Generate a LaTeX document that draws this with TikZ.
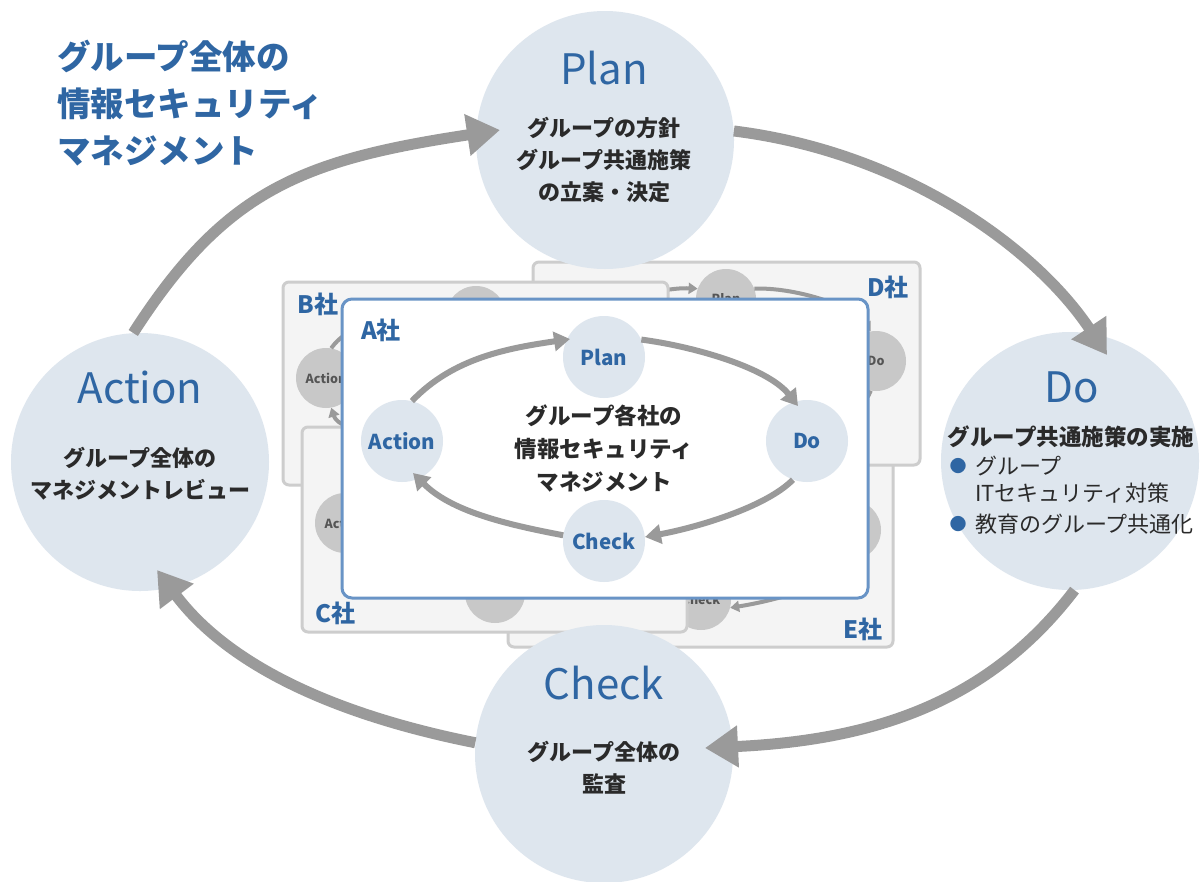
\documentclass[tikz,border=0pt]{standalone}
\usepackage{fontspec}
\setmainfont{Noto Sans CJK JP}
\usetikzlibrary{arrows.meta,calc}
\definecolor{blu}{HTML}{2F66A3}
\definecolor{cfill}{HTML}{DEE6EE}
\definecolor{arrg}{HTML}{9A9A9A}
\definecolor{abord}{HTML}{6994C6}
\definecolor{mfill}{HTML}{F4F4F4}
\definecolor{mbord}{HTML}{CDCDCD}
\definecolor{mcircf}{HTML}{C8C8C8}
\definecolor{mtext}{HTML}{555555}
\definecolor{dark}{HTML}{2A2A2A}
\tikzset{
  bigcirc/.style={circle, fill=cfill, minimum size=258pt, inner sep=0pt},
  smallcirc/.style={circle, fill=cfill, minimum size=82pt, inner sep=0pt, text=blu,
     font=\bfseries\fontsize{20.5}{20.5}\selectfont},
  mcirc/.style={circle, fill=mcircf, minimum size=60pt, inner sep=0pt},
  mtxt/.style={text=mtext, inner sep=0pt, font=\bfseries\fontsize{12.5}{12.5}\selectfont},
  mcard/.style={draw=mbord, fill=mfill, line width=3pt, rounded corners=6pt, inner sep=0pt},
  bigarrow/.style={draw=arrg, line width=11pt, -{Triangle[width=40pt,length=33pt]}},
  inarrow/.style={draw=arrg, line width=6pt, -{Triangle[width=19pt,length=16pt]}},
  marrow/.style={draw=arrg, line width=4pt, -{Triangle[width=11pt,length=9pt]}},
  bigtitle/.style={text=blu, font=\fontsize{42}{42}\selectfont, inner sep=0pt},
  subtxt/.style={text=dark, align=center, font=\bfseries\fontsize{22}{32}\selectfont, inner sep=0pt},
  cardlbl/.style={text=blu, font=\bfseries\fontsize{24}{24}\selectfont, inner sep=0pt},
  minicard/.pic={
    \node[mcirc] (-p) at (193,34) {};
    \node[mcirc] (-a) at (43,96) {};
    \node[mcirc] (-d) at (343,96) {};
    \node[mcirc] (-c) at (193,166) {};
    \draw[marrow] (-a.80) .. controls (66,40) and (126,22) .. (-p.160);
    \draw[marrow] (-p.20) .. controls (260,22) and (320,40) .. (-d.100);
    \draw[marrow] (-d.-100) .. controls (330,150) and (270,166) .. (-c.#1);
    \draw[marrow] (-c.160) .. controls (116,160) and (56,150) .. (-a.-80);
  }
}
\begin{document}
\begin{tikzpicture}[x=1pt,y=-1pt]
\useasboundingbox (0,0) rectangle (1201,881);
\fill[white] (0,0) rectangle (1201,881);

% ---- background company cards ----
\node[mcard, minimum width=385pt, minimum height=210pt] (Ecard) at (700.5,542) {};
\pic (E) at (508,434) {minicard=-15};
\node[mtxt] (Etc) at (E-c) {Check};
\node[mcard, minimum width=387pt, minimum height=203pt] (Dcard) at (726.5,363.5) {};
\pic (D) at (533,265) {minicard=-15};
\node[mtxt] (Dtp) at (D-p) {Plan};
\node[mtxt] (Dtd) at (D-d) {Do};
\node[mcard, minimum width=385pt, minimum height=203pt] (Bcard) at (475.5,383.5) {};
\pic (B) at (283,282) {minicard=-15};
\node[mtxt] (Bta) at (B-a) {Action};
\node[mcard, minimum width=385pt, minimum height=205pt] (Ccard) at (494.5,529.5) {};
\pic (C) at (302,427) {minicard=20};
\node[mtxt] (Cta) at (C-a) {Action};

\node[cardlbl] (lblB) at (318,304) {B社};
\node[cardlbl] (lblD) at (888,287) {D社};
\node[cardlbl] (lblC) at (335,613) {C社};
\node[cardlbl] (lblE) at (863,629) {E社};

% ---- A card ----
\node[draw=abord, fill=white, line width=3pt, rounded corners=10pt, inner sep=0pt,
      minimum width=526pt, minimum height=299pt] (Acard) at (605,448.5) {};
\node[cardlbl] (lblA) at (381,330) {A社};
\node[smallcirc] (iP) at (604,357) {Plan};
\node[smallcirc] (iA) at (402,441) {Action};
\node[smallcirc] (iD) at (807,441) {Do};
\node[smallcirc] (iC) at (604,541) {Check};
\coordinate (tiP) at ($(iP.center)+(-34,-18)$);
\coordinate (tiD) at ($(iD.center)+(-9,-35)$);
\coordinate (tiC) at ($(iC.center)+(41,-4)$);
\coordinate (tiA) at ($(iA.center)+(11,32)$);
\draw[inarrow] (iA.76) .. controls (454,357) and (510,348) .. (tiP);
\draw[inarrow] (iP.25) .. controls (691,346) and (767,367) .. (tiD);
\draw[inarrow] (iD.-110) .. controls (765,508) and (694,528) .. (tiC);
\draw[inarrow] (iC.172) .. controls (504,524) and (451,511) .. (tiA);
\node[subtxt, font=\bfseries\fontsize{22.5}{33}\selectfont] (inner) at (604,448) {グループ各社の\\情報セキュリティ\\マネジメント};

% ---- big circles ----
\node[bigcirc] (P) at (605,140) {};
\node[bigcirc] (A) at (140,462) {};
\node[bigcirc] (D) at (1070,461) {};
\node[bigcirc] (C) at (604,754) {};

% ---- big arrows ----
\coordinate (tD) at ($(D.center)+(37,-106)$);
\coordinate (tC) at ($(C.center)+(101,-6)$);
\coordinate (tA) at ($(A.center)+(17,108)$);
\coordinate (tP) at ($(P.center)+(-105,-10)$);
\draw[bigarrow] (P.4.5) .. controls (903,152) and (1035,247) .. (tD);
\draw[bigarrow] (D.-88.7) .. controls (989,702) and (875,740) .. (tC);
\draw[bigarrow] (C.175) .. controls (336,715) and (229,666) .. (tA);
\draw[bigarrow] (A.93) .. controls (225,190) and (302,160) .. (tP);

% ---- texts in big circles ----
\node[bigtitle] (hP) at (604,68) {Plan};
\node[subtxt] (sP) at (604,160) {グループの方針\\グループ共通施策\\の立案・決定};
\node[bigtitle] (hA) at (140,387) {Action};
\node[subtxt] (sA) at (140,474) {グループ全体の\\マネジメントレビュー};
\node[bigtitle] (hD) at (1072,387) {Do};
\node[subtxt, font=\bfseries\fontsize{22.5}{22.5}\selectfont] (sD) at (1071,437) {グループ共通施策の実施};
\node[text=blu, font=\fontsize{17}{17}\selectfont, inner sep=0pt] (bul1) at (958,466) {●};
\node[text=blu, font=\fontsize{17}{17}\selectfont, inner sep=0pt] (bul2) at (958,524) {●};
\node[text=dark, anchor=west, align=left, font=\fontsize{22}{27}\selectfont, inner sep=0pt] (dl1) at (975,480) {グループ\\ITセキュリティ対策};
\node[text=dark, anchor=west, font=\fontsize{22}{27}\selectfont, inner sep=0pt] (dl2) at (975,524) {教育のグループ共通化};
\node[bigtitle] (hC) at (604,683) {Check};
\node[subtxt] (sC) at (604,768) {グループ全体の\\監査};

% ---- title ----
\node[text=blu, anchor=west, align=left, font=\bfseries\fontsize{33.5}{47}\selectfont, inner sep=0pt] (title) at (57,103) {グループ全体の\\情報セキュリティ\\マネジメント};
\end{tikzpicture}
\end{document}
